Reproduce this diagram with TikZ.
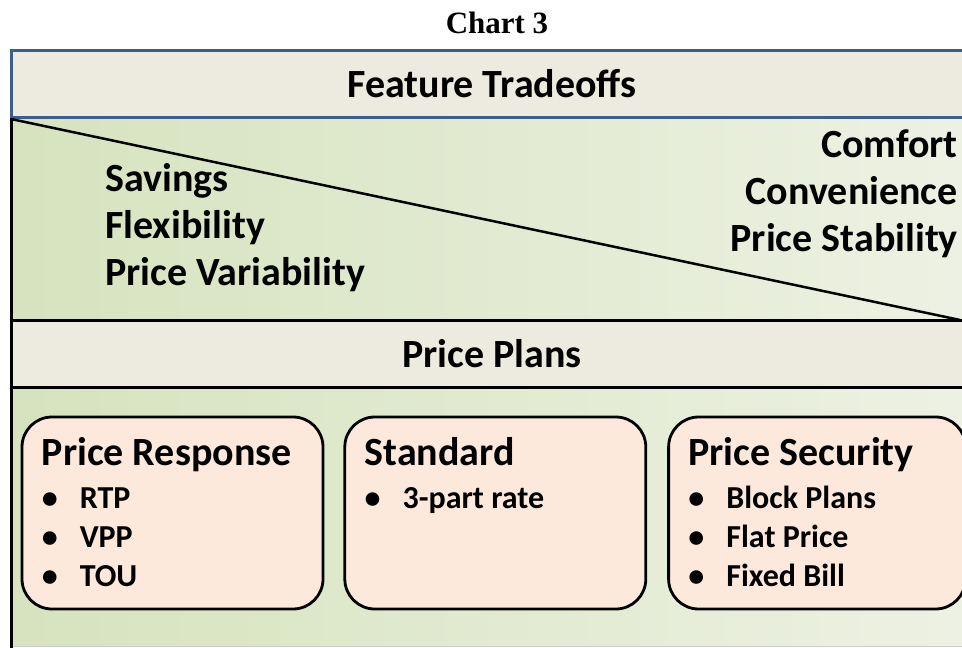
\documentclass[tikz,border=0pt]{standalone}
\usepackage{fontspec}
\setmainfont{Carlito}
\newfontfamily\chartfont{Liberation Serif}
\usetikzlibrary{positioning}

\definecolor{bandfill}{RGB}{237,235,224}
\definecolor{bandline}{RGB}{59,95,143}
\definecolor{greenleft}{RGB}{214,227,190}
\definecolor{greenright}{RGB}{237,241,227}
\definecolor{planfill}{RGB}{253,233,219}

\newcommand{\planitem}[1]{\makebox[38pt][l]{\textbullet}#1}

\begin{document}
\begin{tikzpicture}[
    x=1pt, y=-1pt,
    node distance=19pt,
    band/.style={rectangle, fill=bandfill, line width=3pt, minimum width=962pt, minimum height=67pt, inner sep=0pt, font=\fontsize{40}{47}\selectfont\bfseries},
    planbox/.style={rectangle, draw, fill=planfill, line width=2.8pt, rounded corners=30pt, minimum width=301pt, minimum height=192pt},
    heading/.style={anchor=base west, inner sep=0pt, font=\fontsize{40}{47}\selectfont\bfseries},
    items/.style={anchor=base west, inner sep=0pt, align=left, font=\fontsize{32}{39}\selectfont\bfseries},
    feature/.style={inner sep=0pt, font=\fontsize{40}{47}\selectfont\bfseries}
]
    \useasboundingbox (0,0) rectangle (962,648);

    % green areas
    \shade[left color=greenleft, right color=greenright] (11,118) rectangle (962,320);
    \shade[left color=greenleft, right color=greenright] (11,387) rectangle (962,646);
    \draw[black!20, line width=1pt] (11,646.5) -- (962,646.5);

    \node[font=\chartfont\fontsize{31}{36}\selectfont\bfseries, anchor=base] (title) at (497,33) {Chart 3};

    % bands
    \node[band, draw=bandline] (tradeoffs) at (492,84) {Feature Tradeoffs};
    \node[band, draw=black] (plans) at (492,353.5) {Price Plans};
    \draw[line width=3pt] (11,118) -- (11,648);
    \draw[line width=2.5pt] (11,119) -- (960,320);

    % base of a multi-line node = its last line
    \node[feature, anchor=base west, align=left] (left) at (105,285) {Savings\\Flexibility\\Price Variability};
    \node[feature, anchor=base east, align=right] (right) at (958,251) {Comfort\\Convenience\\Price Stability};

    % price plan boxes
    \node[planbox] (response) at (172.5,513) {};
    \node[planbox, right=of response] (standard) {};
    \node[planbox, minimum width=297pt, right=20pt of standard] (security) {};

    \node[heading] (responsehead) at ([xshift=21pt, yshift=-50pt]response.north west) {Price Response};
    \node[heading] (standardhead) at ([xshift=21pt, yshift=-50pt]standard.north west) {Standard};
    \node[heading] (securityhead) at ([xshift=21pt, yshift=-50pt]security.north west) {Price Security};

    \node[items] (responselist) at ([xshift=21pt, yshift=-171pt]response.north west) {\planitem{RTP}\\\planitem{VPP}\\\planitem{TOU}};
    \node[items] (standardlist) at ([xshift=21pt, yshift=-93pt]standard.north west) {\planitem{3-part rate}};
    \node[items] (securitylist) at ([xshift=21pt, yshift=-171pt]security.north west) {\planitem{Block Plans}\\\planitem{Flat Price}\\\planitem{Fixed Bill}};
\end{tikzpicture}
\end{document}
